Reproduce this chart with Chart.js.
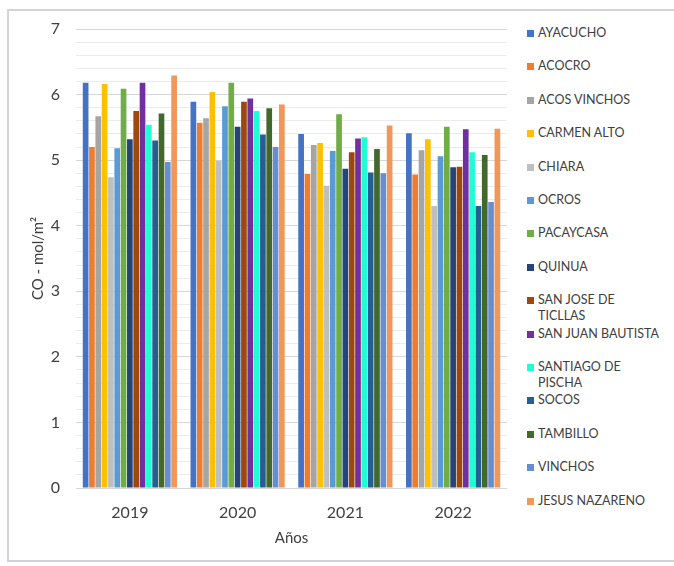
<!DOCTYPE html>
<html>
<head>
<meta charset="utf-8">
<script src="https://cdn.jsdelivr.net/npm/chart.js@4.4.1/dist/chart.umd.min.js"></script>
<style>
  html, body { margin: 0; padding: 0; background: #fff; }
  body { width: 674px; height: 566px; position: relative; overflow: hidden; font-family: Lato, sans-serif; }
  .marco { position: absolute; left: 7px; top: 9px; width: 680px; height: 553px; border: 2px solid #d4d4d4; box-sizing: border-box; }
  .grafico { position: absolute; left: 0; top: 0; width: 515px; height: 566px; }
  .leyenda-item { position: absolute; left: 526px; width: 145px; font-size: 12.5px; line-height: 16px; color: #404040; }
  .leyenda-item .cuadro { position: absolute; left: 1px; top: 5px; width: 7px; height: 7px; }
  .leyenda-item .texto { display: block; margin-left: 12px; width: 126px; }
</style>
</head>
<body>
<div class="marco"></div>
<div class="grafico"><canvas id="coChart"></canvas></div>
<div id="leyenda"></div>
<script>
// Datos del gráfico
const anios = ['2019', '2020', '2021', '2022'];
const distritos = ['AYACUCHO', 'ACOCRO', 'ACOS VINCHOS', 'CARMEN ALTO', 'CHIARA', 'OCROS', 'PACAYCASA',
  'QUINUA', 'SAN JOSE DE TICLLAS', 'SAN JUAN BAUTISTA', 'SANTIAGO DE PISCHA', 'SOCOS', 'TAMBILLO',
  'VINCHOS', 'JESUS NAZARENO'];
const coloresDistrito = ['#4472C4', '#ED7D31', '#A5A5A5', '#FFC000', '#BFBFBF', '#5B9BD5', '#70AD47',
  '#264478', '#9E480E', '#7030A0', '#1EFFD2', '#255E91', '#43682B', '#698ED0', '#F1975A'];

// valores CO (mol/m2) por distrito, en orden 2019..2022
const ayacucho = [6.18, 5.89, 5.40, 5.41];
const acocro = [5.20, 5.57, 4.79, 4.78];
const acosVinchos = [5.67, 5.64, 5.23, 5.15];
const carmenAlto = [6.16, 6.04, 5.26, 5.32];
const chiara = [4.74, 4.99, 4.61, 4.30];
const ocros = [5.18, 5.82, 5.14, 5.06];
const pacaycasa = [6.09, 6.18, 5.70, 5.51];
const quinua = [5.32, 5.51, 4.87, 4.89];
const sanJose = [5.75, 5.89, 5.12, 4.90];
const sanJuan = [6.18, 5.94, 5.33, 5.47];
const santiago = [5.54, 5.75, 5.35, 5.12];
const socos = [5.30, 5.39, 4.81, 4.30];
const tambillo = [5.71, 5.79, 5.17, 5.08];
const vinchos = [4.97, 5.20, 4.80, 4.36];
const jesusNazareno = [6.29, 5.85, 5.53, 5.48];

const seriesValores = [ayacucho, acocro, acosVinchos, carmenAlto, chiara, ocros, pacaycasa,
  quinua, sanJose, sanJuan, santiago, socos, tambillo, vinchos, jesusNazareno];

const ejeY = { min: 0, max: 7, paso: 0.2 };
const tituloY = 'CO - mol/m²';
const tituloX = 'Años';

const esEntero = v => Math.abs(v - Math.round(v)) < 1e-6;

const datasets = distritos.map((nombre, i) => ({
  label: nombre,
  data: seriesValores[i],
  backgroundColor: coloresDistrito[i],
  borderWidth: 0,
  barPercentage: 0.9,
  categoryPercentage: 0.88
}));

new Chart(document.getElementById('coChart'), {
  type: 'bar',
  data: { labels: anios, datasets: datasets },
  options: {
    responsive: true,
    maintainAspectRatio: false,
    animation: false,
    layout: { padding: { top: 29, right: 8, bottom: 10, left: 29 } },
    plugins: { legend: { display: false }, tooltip: { enabled: false } },
    scales: {
      x: {
        afterFit: scale => { scale.height = 68; },
        grid: { display: false, drawTicks: false, tickLength: 0 },
        border: { display: false },
        ticks: { color: '#404040', padding: 15, font: { family: 'Lato', size: 16 } },
        title: { display: true, text: tituloX, color: '#404040', font: { family: 'Lato', size: 15 }, padding: { top: 0, bottom: 9 } }
      },
      y: {
        min: ejeY.min,
        max: ejeY.max,
        afterFit: scale => { scale.width = 47; },
        border: { display: false },
        grid: {
          drawTicks: false,
          tickLength: 0,
          color: ctx => esEntero(ctx.tick.value) ? '#d6d6d6' : '#ebebeb',
          lineWidth: 1
        },
        ticks: {
          stepSize: ejeY.paso,
          autoSkip: false,
          padding: 16,
          color: '#404040',
          font: { family: 'Lato', size: 16 },
          callback: v => esEntero(v) ? String(Math.round(v)) : ''
        },
        title: { display: true, text: tituloY, color: '#404040', font: { family: 'Lato', size: 15 }, padding: { top: 0, bottom: 0 } }
      }
    }
  }
});

// Leyenda a la derecha (texto real, con ajuste de línea como en el original)
const leyenda = document.getElementById('leyenda');
distritos.forEach((nombre, i) => {
  const item = document.createElement('div');
  item.className = 'leyenda-item';
  item.style.top = (25 + 33.4 * i) + 'px';
  item.innerHTML = '<span class="cuadro" style="background:' + coloresDistrito[i] + '"></span><span class="texto">' + nombre + '</span>';
  leyenda.appendChild(item);
});
</script>
</body>
</html>
